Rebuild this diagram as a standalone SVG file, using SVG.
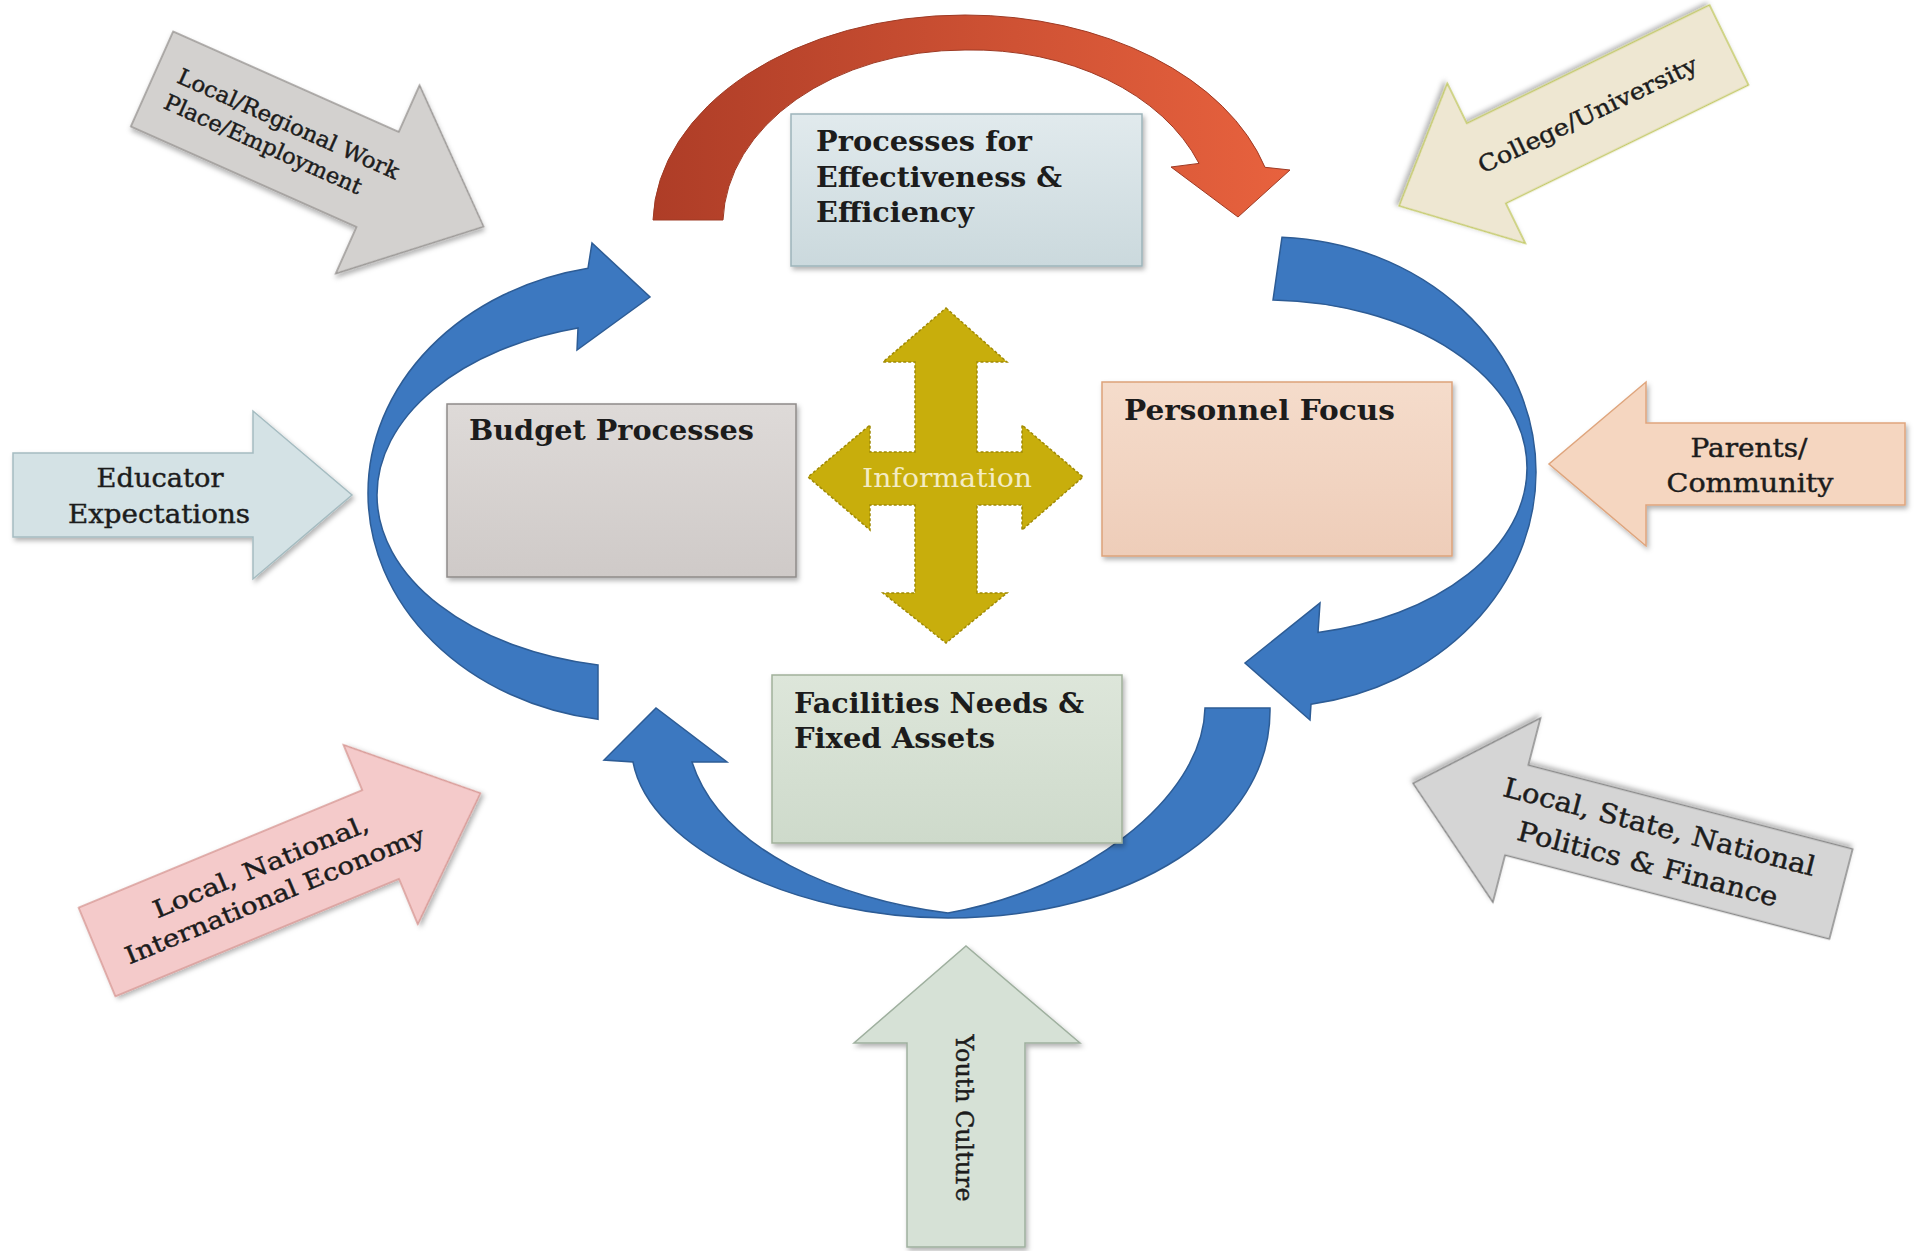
<svg xmlns="http://www.w3.org/2000/svg" width="1915" height="1251" viewBox="0 0 1915 1251">
<defs>
<filter id="sh" x="-10%" y="-10%" width="130%" height="130%"><feDropShadow dx="2" dy="3" stdDeviation="2.5" flood-color="#000" flood-opacity="0.3"/></filter>
<linearGradient id="gRed" x1="0" y1="0" x2="1" y2="0"><stop offset="0" stop-color="#AE3D27"/><stop offset="1" stop-color="#E8623E"/></linearGradient>
<linearGradient id="gProc" x1="0" y1="0" x2="0" y2="1"><stop offset="0" stop-color="#E1EAED"/><stop offset="1" stop-color="#CBD9DD"/></linearGradient>
<linearGradient id="gBud" x1="0" y1="0" x2="0" y2="1"><stop offset="0" stop-color="#DEDAD8"/><stop offset="1" stop-color="#CFCAC8"/></linearGradient>
<linearGradient id="gPer" x1="0" y1="0" x2="0" y2="1"><stop offset="0" stop-color="#F5DCCB"/><stop offset="1" stop-color="#EECDB9"/></linearGradient>
<linearGradient id="gFac" x1="0" y1="0" x2="0" y2="1"><stop offset="0" stop-color="#DDE6DA"/><stop offset="1" stop-color="#CEDACB"/></linearGradient>
</defs>
<style>
.t{font-family:"DejaVu Serif","Liberation Serif",serif;fill:#1c1c1c}
.r{stroke:#1c1c1c;stroke-width:0.45}
.b{font-weight:bold}
.blue{fill:#3C78C0;stroke:#2D5C95;stroke-width:1.5}
.ar{stroke-width:1.5;filter:url(#sh)}
.box{stroke-width:1.5;filter:url(#sh)}
</style>
<rect width="1915" height="1251" fill="#FFFFFF"/>

<g id="connectors">
<path id="arc-top" d="M 653,220 A 312 210 0 0 1 965,15 A 312 210 0 0 1 1265,167.3 L 1290,170 L 1238,217 L 1171,167 L 1199,163.4 A 242 175 0 0 0 965,50 A 242 175 0 0 0 723,220 Z" fill="url(#gRed)" stroke="#9E3A24" stroke-width="1"/>
<path id="arc-left" class="blue" d="M 598,719.3 A 272 229 0 0 1 368,493 A 272 229 0 0 1 588,268.2 L 592,243 L 650,297 L 577,350 L 578,328 A 273 173.1 0 0 0 377,495 A 273 173.1 0 0 0 598,665 Z"/>
<path id="arc-right" class="blue" d="M 1282,237.2 A 266 235 0 0 1 1536,472 A 266 235 0 0 1 1311,704.2 L 1310,720 L 1245,663 L 1320,603 L 1318,632.5 A 262 168 0 0 0 1527,468 A 262 168 0 0 0 1273,300.1 Z"/>
<path id="arc-bottom" class="blue" d="M 633,762 C 650,850 800,918 948,918 C 1130,918 1272,830 1270,708 L 1205,708 C 1203,800 1080,890 948,913 C 840,900 720,850 692,762 L 727,762 L 656,708 L 604,760 Z"/>
</g>

<g id="n-information">
<polygon points="946,308 1007,362 977,362 977,452 1022,452 1022,425 1083,477 1022,530 1022,505 977,505 977,593 1007,593 946,643 883,593 915,593 915,505 870,505 870,530 808,477 870,425 870,452 915,452 915,362 883,362" fill="#C8AE0C" stroke="#A08A06" stroke-width="1.5" stroke-dasharray="3 2"/>
<text class="t" x="947" y="487" text-anchor="middle" font-size="26" textLength="170" lengthAdjust="spacingAndGlyphs" style="fill:#F4ECC4">Information</text>
</g>

<g id="n-processes">
<rect class="box" x="791" y="114" width="351" height="152" fill="url(#gProc)" stroke="#9DB4BA"/>
<text class="t b" x="816" y="151" font-size="27" textLength="216" lengthAdjust="spacingAndGlyphs">Processes for</text>
<text class="t b" x="816" y="187" font-size="27" textLength="246" lengthAdjust="spacingAndGlyphs">Effectiveness &amp;</text>
<text class="t b" x="816" y="222" font-size="27" textLength="158" lengthAdjust="spacingAndGlyphs">Efficiency</text>
</g>

<g id="n-budget">
<rect class="box" x="447" y="404" width="349" height="173" fill="url(#gBud)" stroke="#8F8B89"/>
<text class="t b" x="469" y="440" font-size="27" textLength="285" lengthAdjust="spacingAndGlyphs">Budget Processes</text>
</g>

<g id="n-personnel">
<rect class="box" x="1102" y="382" width="350" height="174" fill="url(#gPer)" stroke="#DDA37A"/>
<text class="t b" x="1124" y="420" font-size="27" textLength="271" lengthAdjust="spacingAndGlyphs">Personnel Focus</text>
</g>

<g id="n-facilities">
<rect class="box" x="772" y="675" width="350" height="168" fill="url(#gFac)" stroke="#A1B19B"/>
<text class="t b" x="794" y="713" font-size="27" textLength="290" lengthAdjust="spacingAndGlyphs">Facilities Needs &amp;</text>
<text class="t b" x="794" y="748" font-size="27" textLength="201" lengthAdjust="spacingAndGlyphs">Fixed Assets</text>
</g>

<g id="n-workplace">
<polygon class="ar" transform="translate(152,79) rotate(24)" points="0,-52 247,-52 247,-103 363,0 247,103 247,52 0,52" fill="#D3D1CF" stroke="#9A9795"/>
<text class="t r" transform="translate(152,79) rotate(24)" x="143" y="-7" text-anchor="middle" font-size="22" textLength="240" lengthAdjust="spacingAndGlyphs">Local/Regional Work</text>
<text class="t r" transform="translate(152,79) rotate(24)" x="128" y="22" text-anchor="middle" font-size="22" textLength="214" lengthAdjust="spacingAndGlyphs">Place/Employment</text>
</g>

<g id="n-college">
<polygon class="ar" transform="translate(1729,45) rotate(154)" points="0,-44.5 270,-44.5 270,-89 367,0 270,89 270,44.5 0,44.5" fill="#EEE7D2" stroke="#C5CB6A"/>
<text class="t r" transform="translate(1591,122) rotate(-25.5)" x="0" y="0" text-anchor="middle" font-size="23" textLength="240" lengthAdjust="spacingAndGlyphs">College/University</text>
</g>

<g id="n-educator">
<polygon class="ar" points="13,453 253,453 253,411 352,495 253,579 253,537 13,537" fill="#D4E2E5" stroke="#A5BCC1"/>
<text class="t r" x="160" y="487" text-anchor="middle" font-size="26" textLength="127" lengthAdjust="spacingAndGlyphs">Educator</text>
<text class="t r" x="159" y="523" text-anchor="middle" font-size="26" textLength="182" lengthAdjust="spacingAndGlyphs">Expectations</text>
</g>

<g id="n-parents">
<polygon class="ar" points="1905,423 1646,423 1646,382 1549,464 1646,546 1646,505 1905,505" fill="#F5D6C0" stroke="#DFA57D"/>
<text class="t r" x="1749" y="457" text-anchor="middle" font-size="26" textLength="117" lengthAdjust="spacingAndGlyphs">Parents/</text>
<text class="t r" x="1750" y="492" text-anchor="middle" font-size="26" textLength="167" lengthAdjust="spacingAndGlyphs">Community</text>
</g>

<g id="n-economy">
<polygon class="ar" transform="translate(97,952) rotate(-22.5)" points="0,-48 307,-48 307,-97 415,0 307,97 307,48 0,48" fill="#F4CACA" stroke="#D89A96"/>
<text class="t r" transform="translate(97,952) rotate(-22.5)" x="184" y="-8" text-anchor="middle" font-size="24" textLength="231" lengthAdjust="spacingAndGlyphs">Local, National,</text>
<text class="t r" transform="translate(97,952) rotate(-22.5)" x="186" y="24" text-anchor="middle" font-size="24" textLength="322" lengthAdjust="spacingAndGlyphs">International Economy</text>
</g>

<g id="n-politics">
<polygon class="ar" transform="translate(1841,894) rotate(-165.5)" points="0,-46.5 335,-46.5 335,-95 442,0 335,95 335,46.5 0,46.5" fill="#D5D5D5" stroke="#8A8A8A"/>
<text class="t r" transform="translate(1652,848) rotate(14.5)" x="2" y="-13" text-anchor="middle" font-size="27" textLength="321" lengthAdjust="spacingAndGlyphs">Local, State, National</text>
<text class="t r" transform="translate(1652,848) rotate(14.5)" x="0" y="26" text-anchor="middle" font-size="27" textLength="268" lengthAdjust="spacingAndGlyphs">Politics &amp; Finance</text>
</g>

<g id="n-youth">
<polygon class="ar" points="907,1247 907,1043 854,1043 966,946 1080,1043 1025,1043 1025,1247" fill="#D6E1D6" stroke="#9FB09F"/>
<text class="t r" transform="translate(956,1118) rotate(90)" x="0" y="0" text-anchor="middle" font-size="24" textLength="167" lengthAdjust="spacingAndGlyphs">Youth Culture</text>
</g>
</svg>
